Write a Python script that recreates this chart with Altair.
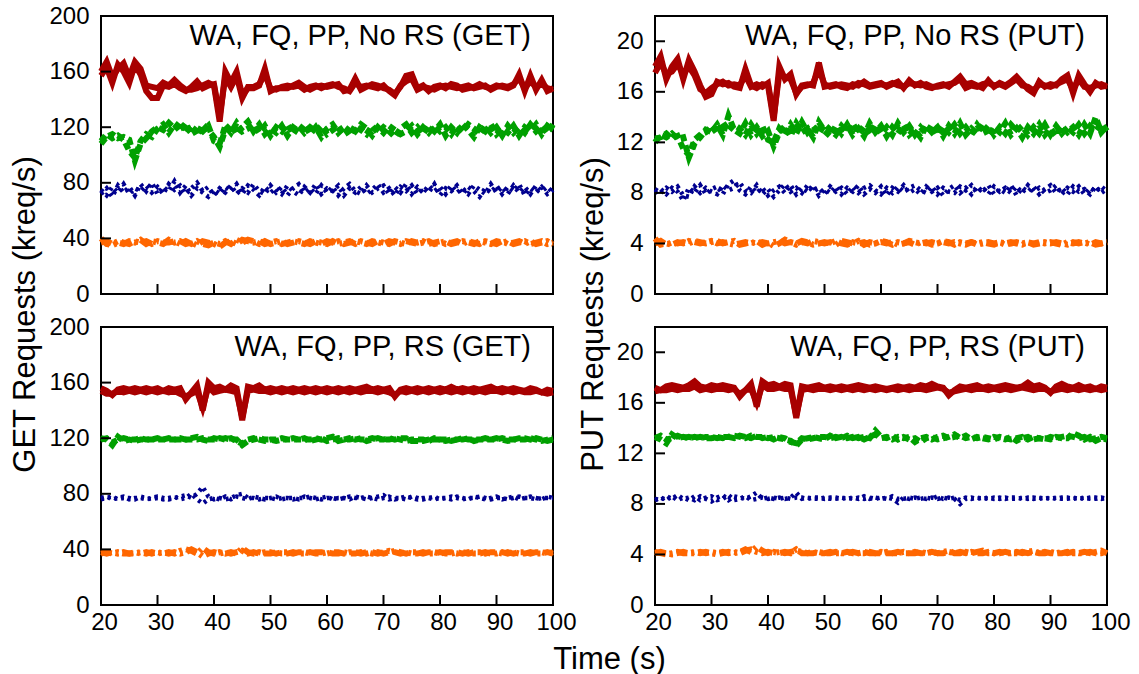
import altair as alt
import pandas as pd

# ---------------- data ----------------
T0 = 20  # first sample (s); one sample per second up to 100 s
X_TICKS = [20, 30, 40, 50, 60, 70, 80, 90, 100]
GET_TICKS = [0, 40, 80, 120, 160, 200]
PUT_TICKS = [0, 4, 8, 12, 16, 20]
GET_MAX = 200
PUT_MAX = 22
TITLES = ["WA, FQ, PP, No RS (GET)", "WA, FQ, PP, No RS (PUT)",
          "WA, FQ, PP, RS (GET)", "WA, FQ, PP, RS (PUT)"]
Y_TITLES = ["GET Requests (kreq/s)", "PUT Requests (kreq/s)"]
X_TITLE = "Time (s)"

# ---- GET, no RS ----
GET_NORS_RED_1 = [
    160, 167, 156, 162, 166, 156, 167, 162, 150, 149,
    148, 152, 150, 154, 150, 147, 147, 148, 150, 152,
    150, 124, 160, 152, 160, 143, 148, 148, 150, 162,
    146, 148, 148, 148, 150, 152, 149, 147, 149, 150,
    149, 150, 151, 146, 147, 155, 147, 149, 151, 150,
    148, 147, 144, 149, 157, 158, 148, 150, 146, 149,
    150, 148, 151, 150, 147, 148, 149, 151, 149, 148,
    150, 149, 148, 150, 158, 146, 157, 147, 154, 146,
    148]
GET_NORS_RED_2 = [
    157, 163, 152, 165, 160, 152, 165, 158, 146, 141,
    141, 150, 149, 151, 148, 146, 149, 153, 148, 150,
    151, 128, 156, 149, 157, 141, 149, 149, 151, 158,
    148, 147, 149, 150, 149, 150, 147, 149, 150, 148,
    150, 151, 149, 148, 146, 152, 149, 150, 149, 148,
    150, 146, 143, 150, 153, 155, 147, 149, 148, 147,
    149, 150, 149, 148, 149, 150, 148, 149, 150, 147,
    149, 150, 149, 151, 155, 148, 153, 149, 151, 148,
    147]
GET_NORS_GREEN_1 = [
    108, 113, 115, 112, 113, 111, 96, 108, 112, 117,
    120, 118, 123, 119, 124, 116, 121, 114, 122, 118,
    113, 106, 118, 122, 115, 120, 124, 117, 122, 115,
    119, 116, 121, 114, 120, 117, 122, 115, 120, 113,
    119, 122, 116, 120, 114, 121, 118, 115, 121, 116,
    120, 117, 113, 119, 122, 116, 120, 115, 121, 117,
    122, 114, 120, 116, 122, 118, 113, 120, 117, 122,
    115, 119, 116, 121, 114, 120, 117, 122, 115, 121,
    118]
GET_NORS_GREEN_2 = [
    110, 115, 112, 114, 111, 103, 98, 110, 115, 113,
    119, 122, 116, 122, 117, 123, 115, 120, 117, 121,
    110, 108, 121, 116, 123, 117, 119, 122, 116, 121,
    114, 120, 117, 122, 115, 121, 116, 120, 117, 121,
    115, 118, 121, 115, 120, 117, 122, 119, 114, 120,
    116, 121, 118, 115, 117, 121, 115, 120, 116, 121,
    117, 120, 115, 121, 117, 122, 119, 115, 121, 116,
    120, 114, 121, 116, 120, 116, 122, 117, 121, 116,
    122]
GET_NORS_BLUE_1 = [
    72, 76, 70, 78, 73, 77, 71, 79, 74, 80,
    72, 77, 74, 81, 73, 78, 71, 76, 73, 70,
    75, 72, 77, 74, 79, 72, 78, 75, 71, 77,
    73, 76, 72, 78, 74, 71, 77, 73, 79, 72,
    76, 74, 78, 71, 76, 73, 77, 72, 75, 79,
    73, 76, 71, 77, 74, 78, 72, 76, 73, 79,
    71, 76, 74, 78, 72, 77, 74, 70, 76, 73,
    78, 72, 77, 74, 79, 71, 76, 73, 77, 72,
    75]
GET_NORS_BLUE_2 = [
    75, 71, 77, 73, 79, 72, 76, 74, 78, 73,
    77, 72, 79, 75, 78, 72, 76, 80, 74, 77,
    71, 76, 73, 78, 72, 76, 73, 79, 74, 72,
    78, 73, 77, 71, 76, 79, 73, 76, 72, 78,
    73, 77, 71, 76, 79, 74, 72, 78, 73, 76,
    78, 72, 77, 73, 79, 72, 77, 73, 78, 74,
    77, 72, 78, 73, 76, 72, 78, 75, 72, 79,
    73, 77, 72, 78, 73, 77, 72, 78, 74, 77,
    73]
GET_NORS_ORANGE_1 = [
    40, 36, 35, 37, 36, 38, 37, 39, 36, 38,
    37, 36, 39, 37, 38, 36, 37, 35, 38, 37,
    36, 34, 37, 38, 36, 39, 38, 37, 38, 36,
    37, 38, 36, 37, 38, 37, 36, 38, 37, 36,
    38, 37, 38, 36, 37, 38, 37, 36, 38, 37,
    36, 38, 37, 36, 38, 37, 36, 37, 38, 36,
    37, 38, 36, 37, 38, 37, 36, 38, 37, 36,
    38, 37, 38, 36, 37, 38, 36, 37, 38, 36,
    37]
GET_NORS_ORANGE_2 = [
    37, 38, 36, 38, 37, 36, 38, 37, 38, 36,
    38, 37, 37, 38, 36, 38, 36, 38, 36, 35,
    37, 36, 38, 36, 39, 37, 39, 38, 36, 38,
    36, 37, 38, 36, 37, 38, 37, 36, 38, 37,
    36, 38, 36, 37, 38, 36, 38, 37, 36, 38,
    37, 36, 38, 37, 36, 38, 37, 38, 36, 37,
    38, 36, 37, 38, 36, 38, 37, 36, 38, 37,
    36, 38, 36, 37, 38, 36, 38, 36, 37, 38,
    36]

# ---- PUT, no RS ----
PUT_NORS_RED_1 = [
    18.0, 18.8, 17.0, 18.0, 18.6, 17.0, 18.5, 17.6, 16.5, 15.6,
    15.8, 16.8, 16.6, 16.7, 16.4, 16.3, 17.8, 16.5, 16.3, 16.6,
    16.5, 13.7, 18.0, 17.0, 17.4, 15.8, 16.5, 16.6, 16.5, 18.3,
    16.4, 16.5, 16.6, 16.4, 16.3, 16.6, 16.5, 16.8, 16.5, 16.6,
    16.7, 16.4, 16.6, 16.8, 16.3, 16.9, 16.5, 16.7, 16.4, 16.3,
    16.5, 16.6, 16.4, 16.8, 17.2, 16.6, 16.7, 16.5, 16.3, 16.9,
    16.4, 16.7, 16.5, 16.8, 17.2, 16.7, 16.2, 15.9, 16.8, 16.4,
    16.6, 16.5, 17.0, 17.3, 15.9, 17.3, 16.6, 16.0, 16.7, 16.4,
    16.5]
PUT_NORS_RED_2 = [
    17.5, 18.3, 17.4, 17.6, 18.2, 17.4, 18.0, 17.3, 16.2, 15.9,
    16.3, 16.6, 16.8, 16.5, 16.6, 16.5, 17.3, 16.4, 16.6, 16.4,
    16.7, 14.0, 17.4, 17.2, 17.0, 15.9, 16.4, 16.5, 16.7, 17.8,
    16.6, 16.4, 16.5, 16.6, 16.5, 16.4, 16.7, 16.6, 16.4, 16.5,
    16.6, 16.5, 16.7, 16.5, 16.4, 16.7, 16.6, 16.5, 16.6, 16.4,
    16.4, 16.5, 16.6, 16.7, 17.0, 16.3, 16.5, 16.4, 16.6, 16.7,
    16.5, 16.6, 16.4, 16.7, 17.0, 16.5, 16.4, 16.1, 16.6, 16.5,
    16.4, 16.6, 16.8, 17.0, 16.2, 17.0, 16.4, 16.3, 16.5, 16.6,
    16.4]
PUT_NORS_GREEN_1 = [
    12.0, 12.6, 12.4, 12.7, 12.3, 12.4, 10.8, 11.9, 12.4, 13.0,
    12.8, 13.4, 12.6, 14.1, 13.0, 12.7, 13.5, 12.6, 13.2, 12.5,
    12.9, 11.7, 12.8, 13.3, 12.5, 13.5, 12.8, 13.1, 12.4, 13.6,
    12.9, 12.5, 13.3, 12.7, 13.4, 12.6, 13.1, 12.5, 13.5, 12.8,
    13.3, 12.5, 13.2, 12.7, 13.4, 12.6, 13.0, 12.4, 13.3, 12.8,
    13.2, 12.5, 13.3, 12.7, 13.5, 12.6, 13.1, 12.7, 13.4, 12.5,
    13.2, 12.8, 13.5, 12.6, 13.1, 12.4, 13.2, 12.7, 13.4, 12.6,
    13.1, 12.5, 13.3, 12.8, 13.2, 12.6, 13.4, 12.7, 14.0, 12.8,
    13.3]
PUT_NORS_GREEN_2 = [
    12.3, 12.4, 12.7, 12.3, 12.5, 11.5, 11.0, 12.2, 12.6, 12.8,
    13.3, 12.7, 13.6, 12.9, 13.4, 13.1, 12.6, 13.4, 12.7, 13.3,
    12.2, 12.0, 13.1, 12.6, 13.4, 12.7, 13.6, 12.8, 13.3, 12.7,
    13.4, 13.0, 12.6, 13.3, 12.8, 13.5, 12.7, 13.3, 12.6, 13.4,
    12.7, 13.2, 12.6, 13.5, 12.8, 13.3, 12.6, 13.2, 12.7, 13.4,
    12.6, 13.3, 12.8, 13.4, 12.7, 13.2, 12.6, 13.4, 12.8, 13.3,
    12.6, 13.2, 12.7, 13.4, 12.9, 13.3, 12.6, 13.2, 12.7, 13.4,
    12.6, 13.3, 12.7, 13.2, 12.8, 13.4, 12.7, 13.3, 12.9, 13.5,
    12.9]
PUT_NORS_BLUE_1 = [
    8.0, 8.3, 7.9, 8.4, 8.1, 7.4, 8.4, 8.0, 8.6, 7.9,
    8.3, 8.5, 7.9, 8.7, 9.0, 8.2, 7.9, 8.5, 8.0, 8.4,
    7.8, 8.2, 8.5, 8.0, 8.6, 7.9, 8.4, 8.1, 8.6, 7.8,
    8.3, 8.0, 8.5, 7.9, 8.4, 8.1, 8.6, 7.9, 8.3, 8.0,
    8.5, 7.8, 8.4, 8.1, 8.6, 8.0, 8.3, 7.9, 8.5, 8.1,
    8.4, 7.8, 8.3, 8.6, 8.0, 8.4, 7.9, 8.5, 8.1, 8.6,
    7.9, 8.3, 8.0, 8.6, 7.8, 8.4, 8.1, 8.5, 7.9, 8.3,
    8.6, 8.0, 8.4, 7.9, 8.5, 8.1, 8.3, 7.9, 8.5, 8.0,
    8.3]
PUT_NORS_BLUE_2 = [
    8.3, 8.0, 8.4, 8.1, 8.5, 7.8, 7.7, 8.5, 8.0, 8.4,
    8.1, 7.9, 8.6, 8.2, 8.4, 8.8, 8.2, 8.0, 8.6, 7.9,
    8.3, 7.7, 8.2, 8.7, 8.1, 8.4, 8.0, 8.6, 8.1, 8.4,
    7.9, 8.5, 8.1, 8.4, 7.9, 8.5, 8.0, 8.4, 8.6, 8.2,
    7.9, 8.4, 8.0, 8.5, 8.1, 8.4, 8.6, 8.2, 8.0, 8.5,
    7.9, 8.4, 8.1, 8.0, 8.5, 8.2, 8.6, 8.0, 8.4, 7.9,
    8.5, 8.1, 8.4, 8.0, 8.5, 8.0, 8.6, 8.1, 8.4, 8.0,
    8.2, 8.6, 7.9, 8.4, 8.1, 8.5, 7.9, 8.4, 8.1, 8.5,
    8.1]
PUT_NORS_ORANGE_1 = [
    4.4, 3.9, 4.0, 3.9, 4.1, 4.0, 4.2, 4.1, 4.0, 4.1,
    4.2, 4.0, 4.1, 4.0, 3.9, 4.0, 4.1, 4.0, 4.2, 3.9,
    4.1, 3.8, 4.0, 4.3, 4.1, 4.0, 4.2, 4.1, 3.9, 4.0,
    4.1, 4.0, 4.2, 4.0, 3.9, 4.1, 4.0, 4.1, 3.9, 4.0,
    4.1, 4.0, 4.1, 3.9, 4.0, 4.2, 4.1, 4.0, 4.1, 3.9,
    4.0, 4.1, 4.0, 4.1, 4.0, 3.9, 4.1, 4.0, 4.1, 4.0,
    3.9, 4.1, 4.0, 4.1, 4.0, 3.9, 4.1, 4.0, 4.1, 4.0,
    4.1, 4.0, 3.9, 4.1, 4.0, 4.1, 4.0, 4.1, 3.9, 4.0,
    4.1]
PUT_NORS_ORANGE_2 = [
    4.0, 4.2, 3.9, 4.1, 4.0, 4.1, 4.0, 4.2, 4.1, 4.0,
    4.1, 4.2, 4.0, 4.1, 4.2, 3.9, 4.0, 4.1, 4.0, 4.1,
    4.0, 4.1, 4.2, 4.0, 4.1, 3.9, 4.1, 4.0, 4.2, 4.1,
    4.0, 4.1, 3.9, 4.2, 4.1, 4.0, 4.2, 3.9, 4.1, 4.0,
    4.2, 4.1, 3.9, 4.1, 4.0, 4.1, 3.9, 4.1, 4.0, 4.1,
    4.0, 4.2, 4.1, 3.9, 4.1, 4.0, 4.1, 3.9, 4.0, 4.1,
    4.0, 4.1, 3.9, 4.0, 4.1, 4.0, 4.1, 3.9, 4.0, 4.1,
    4.0, 4.1, 4.0, 3.9, 4.1, 4.0, 4.1, 3.9, 4.1, 4.0,
    4.1]

# ---- GET, RS ----
GET_RS_RED_1 = [
    156, 154, 151, 155, 156, 155, 156, 155, 156, 155,
    156, 154, 156, 155, 156, 148, 153, 158, 140, 160,
    156, 157, 155, 158, 156, 133, 157, 156, 158, 155,
    156, 155, 156, 155, 156, 155, 156, 155, 156, 155,
    156, 155, 156, 155, 156, 155, 156, 157, 155, 156,
    155, 156, 150, 155, 156, 155, 156, 155, 156, 155,
    156, 155, 157, 155, 156, 155, 156, 155, 156, 157,
    155, 156, 155, 156, 155, 154, 156, 155, 153, 155,
    154]
GET_RS_RED_2 = [
    154, 152, 152, 154, 153, 154, 153, 154, 153, 154,
    153, 154, 153, 154, 152, 150, 152, 154, 142, 157,
    153, 154, 155, 154, 153, 135, 154, 155, 154, 154,
    153, 154, 153, 154, 153, 154, 153, 154, 153, 154,
    153, 154, 153, 154, 153, 154, 153, 154, 154, 153,
    154, 153, 151, 154, 153, 154, 153, 154, 153, 154,
    153, 154, 153, 154, 153, 154, 153, 154, 153, 154,
    154, 153, 154, 153, 154, 153, 153, 154, 153, 152,
    153]
GET_RS_GREEN_1 = [
    120, 119, 115, 121, 118, 119, 118, 119, 119, 119,
    119, 119, 119, 119, 120, 119, 120, 121, 119, 118,
    120, 119, 120, 119, 119, 115, 118, 119, 120, 119,
    119, 118, 119, 119, 119, 119, 119, 119, 120, 119,
    120, 121, 118, 119, 119, 120, 119, 119, 120, 119,
    119, 120, 119, 120, 120, 118, 118, 118, 119, 119,
    119, 118, 119, 119, 120, 119, 119, 119, 119, 119,
    119, 120, 119, 119, 119, 119, 120, 119, 118, 119,
    120]
GET_RS_GREEN_2 = [
    119, 120, 117, 119, 120, 119, 119, 120, 119, 119,
    120, 119, 120, 119, 119, 119, 119, 119, 120, 119,
    119, 120, 119, 120, 118, 116, 119, 120, 119, 118,
    119, 119, 120, 119, 120, 119, 120, 118, 119, 120,
    118, 119, 120, 119, 120, 119, 120, 118, 119, 120,
    119, 119, 120, 119, 118, 119, 119, 119, 118, 120,
    119, 119, 118, 119, 119, 120, 118, 119, 120, 119,
    120, 119, 118, 119, 120, 120, 119, 120, 119, 118,
    119]
GET_RS_BLUE_1 = [
    77, 78, 76, 77, 78, 76, 77, 77, 76, 77,
    78, 77, 76, 77, 78, 79, 77, 80, 85, 78,
    76, 77, 76, 77, 79, 80, 77, 77, 76, 77,
    77, 76, 77, 77, 76, 77, 77, 78, 77, 76,
    77, 77, 76, 77, 78, 77, 77, 78, 77, 76,
    77, 78, 76, 77, 78, 77, 76, 77, 77, 76,
    77, 77, 78, 77, 76, 77, 77, 78, 77, 76,
    77, 77, 76, 77, 78, 77, 77, 76, 77, 77,
    77]
GET_RS_BLUE_2 = [
    76, 77, 78, 76, 77, 77, 76, 78, 77, 76,
    77, 76, 77, 78, 76, 77, 80, 76, 73, 76,
    77, 76, 78, 76, 78, 77, 76, 78, 77, 76,
    77, 78, 76, 77, 77, 76, 78, 77, 76, 77,
    78, 76, 77, 77, 76, 78, 77, 76, 77, 78,
    79, 76, 77, 77, 76, 78, 77, 76, 77, 78,
    76, 77, 76, 78, 77, 76, 78, 77, 76, 77,
    78, 76, 77, 78, 76, 77, 78, 77, 76, 78,
    77]
GET_RS_ORANGE_1 = [
    38, 37, 38, 37, 38, 37, 38, 37, 38, 37,
    38, 37, 38, 37, 39, 40, 39, 37, 41, 38,
    37, 38, 37, 38, 37, 41, 38, 37, 38, 37,
    37, 38, 37, 37, 38, 37, 37, 38, 37, 37,
    38, 37, 37, 38, 37, 37, 38, 37, 38, 37,
    38, 39, 38, 37, 38, 37, 37, 38, 37, 37,
    38, 37, 37, 38, 37, 38, 37, 37, 38, 37,
    37, 38, 37, 38, 37, 37, 38, 37, 37, 38,
    37]
GET_RS_ORANGE_2 = [
    37, 38, 37, 38, 37, 37, 37, 38, 37, 38,
    37, 38, 37, 38, 37, 38, 40, 38, 35, 37,
    38, 37, 38, 37, 38, 39, 37, 38, 37, 38,
    38, 37, 38, 38, 37, 38, 38, 37, 38, 38,
    37, 38, 38, 37, 38, 38, 37, 38, 37, 38,
    37, 38, 39, 38, 37, 38, 38, 37, 38, 38,
    37, 38, 38, 37, 38, 37, 38, 38, 37, 38,
    38, 37, 38, 37, 38, 38, 37, 38, 38, 37,
    38]

# ---- PUT, RS ----
PUT_RS_RED_1 = [
    17.2, 17.0, 17.3, 17.4, 17.3, 17.2, 17.4, 17.7, 17.3, 17.2,
    17.4, 17.3, 17.4, 17.3, 17.2, 16.5, 17.0, 17.5, 15.7, 17.7,
    17.4, 17.5, 17.3, 17.5, 17.4, 14.8, 17.3, 17.2, 17.3, 17.4,
    17.2, 17.3, 17.2, 17.3, 17.2, 17.3, 17.4, 17.3, 17.2, 17.3,
    17.2, 17.1, 17.2, 17.3, 17.2, 17.3, 17.2, 17.4, 17.3, 17.5,
    17.3, 17.2, 16.6, 17.0, 17.3, 17.2, 17.3, 17.4, 17.2, 17.3,
    17.2, 17.3, 17.4, 17.3, 17.2, 17.3, 17.6, 17.3, 17.4, 17.2,
    16.8, 17.3, 17.5, 17.3, 17.2, 17.4, 17.2, 17.3, 17.1, 17.3,
    17.2]
PUT_RS_RED_2 = [
    16.9, 17.0, 17.0, 17.1, 17.0, 17.1, 17.1, 17.3, 17.0, 17.1,
    17.0, 17.1, 17.1, 17.0, 17.1, 16.7, 17.0, 17.1, 16.0, 17.4,
    17.1, 17.1, 17.2, 17.1, 17.1, 15.0, 17.0, 17.1, 17.0, 17.1,
    17.1, 17.0, 17.1, 17.0, 17.1, 17.0, 17.1, 17.0, 17.1, 17.0,
    17.1, 17.0, 17.1, 17.0, 17.1, 17.0, 17.1, 17.1, 17.0, 17.1,
    17.2, 17.1, 16.8, 16.9, 17.0, 17.1, 17.0, 17.1, 17.1, 17.0,
    17.1, 17.0, 17.1, 17.0, 17.1, 17.2, 17.1, 17.0, 17.1, 17.1,
    16.9, 17.0, 17.1, 17.0, 17.1, 17.0, 17.1, 17.0, 17.1, 17.0,
    17.1]
PUT_RS_GREEN_1 = [
    13.3, 13.1, 12.8, 13.5, 13.2, 13.3, 13.2, 13.3, 13.2, 13.3,
    13.3, 13.2, 13.3, 13.3, 13.4, 13.3, 13.2, 13.4, 13.3, 13.3,
    13.2, 13.3, 13.2, 13.1, 13.0, 12.6, 13.1, 13.2, 13.3, 13.2,
    13.1, 13.4, 13.2, 13.3, 13.2, 13.3, 13.2, 13.3, 13.2, 13.8,
    13.3, 13.2, 13.4, 13.1, 13.3, 13.1, 13.2, 12.9, 13.2, 13.3,
    13.1, 13.2, 13.3, 13.5, 13.2, 13.4, 13.1, 13.3, 13.2, 13.1,
    13.3, 13.2, 13.1, 13.3, 13.0, 13.2, 13.3, 13.1, 13.2, 13.2,
    13.1, 13.3, 13.2, 13.2, 13.6, 13.4, 13.1, 13.3, 13.0, 13.2,
    13.1]
PUT_RS_GREEN_2 = [
    13.2, 13.4, 13.1, 13.2, 13.4, 13.2, 13.3, 13.2, 13.3, 13.2,
    13.2, 13.3, 13.2, 13.3, 13.2, 13.4, 13.3, 13.2, 13.4, 13.2,
    13.3, 13.1, 13.3, 13.2, 12.9, 12.8, 13.2, 13.1, 13.2, 13.3,
    13.3, 13.2, 13.3, 13.2, 13.4, 13.2, 13.3, 13.1, 13.3, 13.5,
    13.2, 13.3, 13.1, 13.3, 13.2, 13.3, 12.9, 13.2, 13.3, 13.1,
    13.3, 13.4, 13.2, 13.3, 13.4, 13.2, 13.3, 13.2, 13.3, 13.2,
    13.1, 13.3, 13.2, 13.1, 13.2, 13.3, 13.1, 13.3, 13.2, 13.1,
    13.3, 13.2, 13.3, 13.4, 13.3, 13.2, 13.3, 13.1, 13.2, 13.3,
    13.2]
PUT_RS_BLUE_1 = [
    8.4, 8.3, 8.6, 8.4, 8.7, 8.4, 8.5, 8.3, 8.6, 8.4,
    8.2, 8.5, 8.7, 8.3, 8.6, 8.5, 8.4, 8.6, 8.9, 8.4,
    8.5, 8.4, 8.5, 8.4, 8.5, 8.9, 8.4, 8.5, 8.4, 8.4,
    8.5, 8.4, 8.4, 8.5, 8.4, 8.5, 8.4, 8.6, 8.4, 8.5,
    8.4, 8.5, 8.4, 8.1, 8.5, 8.4, 8.5, 8.4, 8.5, 8.4,
    8.6, 8.4, 8.5, 8.4, 8.0, 8.4, 8.5, 8.4, 8.5, 8.4,
    8.5, 8.4, 8.5, 8.4, 8.4, 8.5, 8.4, 8.5, 8.4, 8.5,
    8.4, 8.5, 8.4, 8.4, 8.5, 8.4, 8.5, 8.4, 8.4, 8.5,
    8.4]
PUT_RS_BLUE_2 = [
    8.3, 8.5, 8.3, 8.6, 8.3, 8.5, 8.3, 8.6, 8.3, 8.5,
    8.6, 8.3, 8.4, 8.7, 8.3, 8.4, 8.6, 8.3, 8.4, 8.5,
    8.4, 8.5, 8.4, 8.5, 8.4, 8.5, 8.5, 8.4, 8.5, 8.5,
    8.4, 8.5, 8.5, 8.4, 8.5, 8.4, 8.5, 8.4, 8.5, 8.4,
    8.5, 8.4, 8.6, 8.4, 8.4, 8.5, 8.4, 8.5, 8.4, 8.5,
    8.4, 8.5, 8.4, 8.5, 8.3, 8.5, 8.4, 8.5, 8.4, 8.5,
    8.4, 8.5, 8.4, 8.5, 8.5, 8.4, 8.5, 8.4, 8.5, 8.4,
    8.5, 8.4, 8.5, 8.5, 8.4, 8.5, 8.4, 8.5, 8.5, 8.4,
    8.5]
PUT_RS_ORANGE_1 = [
    4.2, 4.1, 4.0, 4.1, 4.2, 4.1, 4.1, 4.2, 4.1, 4.2,
    4.1, 4.0, 4.1, 4.2, 4.1, 4.2, 4.4, 4.2, 4.6, 4.3,
    4.1, 4.2, 4.1, 4.2, 4.1, 4.4, 4.1, 4.1, 4.2, 4.1,
    4.1, 4.2, 4.1, 4.1, 4.2, 4.1, 4.1, 4.2, 4.1, 4.1,
    4.2, 4.1, 4.1, 4.1, 4.2, 4.1, 4.1, 4.2, 4.1, 4.2,
    4.1, 4.2, 4.3, 4.1, 4.1, 4.2, 4.1, 4.2, 4.3, 4.1,
    4.1, 4.2, 4.1, 4.1, 4.2, 4.1, 4.2, 4.3, 4.1, 4.1,
    4.2, 4.1, 4.1, 4.2, 4.1, 4.1, 4.2, 4.1, 4.2, 4.3,
    4.1]
PUT_RS_ORANGE_2 = [
    4.1, 4.2, 4.1, 4.0, 4.1, 4.2, 4.1, 4.1, 4.2, 4.1,
    4.2, 4.1, 4.2, 4.1, 4.2, 4.1, 4.3, 4.4, 4.2, 4.1,
    4.2, 4.1, 4.2, 4.1, 4.2, 4.3, 4.2, 4.1, 4.1, 4.2,
    4.1, 4.1, 4.2, 4.1, 4.1, 4.2, 4.1, 4.1, 4.2, 4.1,
    4.1, 4.2, 4.1, 4.2, 4.1, 4.1, 4.2, 4.1, 4.1, 4.2,
    4.1, 4.1, 4.2, 4.1, 4.2, 4.1, 4.2, 4.1, 4.1, 4.2,
    4.1, 4.1, 4.2, 4.1, 4.1, 4.2, 4.1, 4.2, 4.1, 4.2,
    4.1, 4.1, 4.2, 4.1, 4.2, 4.1, 4.1, 4.2, 4.1, 4.1,
    4.2]

# ---------------- styles ----------------
FONT = "Liberation Sans"
W, H = 452, 278
STYLES = {
    "red": {"color": "#A80000", "strokeWidth": 6},
    "green": {"color": "#00A000", "strokeWidth": 6, "strokeDash": [7, 4]},
    "blue": {"color": "#00008F", "strokeWidth": 4.5, "strokeDash": [3, 4]},
    "orange": {"color": "#FF6600", "strokeWidth": 6, "strokeDash": [11, 4, 3, 4]},
}


def group_frame(lines):
    rows = []
    for k, vals in enumerate(lines):
        for i, v in enumerate(vals):
            rows.append({"t": T0 + i, "v": v, "series": f"s{k}"})
    return pd.DataFrame(rows)


def panel(groups, ymax, yticks, title, show_xlabels, ytitle=None, ytitle_x=0, xtitle=None):
    xs = alt.Scale(domain=[20, 100], nice=False, zero=False)
    ys = alt.Scale(domain=[0, ymax], nice=False, zero=True)

    yaxis_kw = dict(values=yticks, ticks=False, domain=False, grid=False,
                    labelPadding=12, labelFontSize=24, labelFont=FONT,
                    labelColor="black", labelFlush=False, title=None)
    if ytitle:
        yaxis_kw.update(title=ytitle, titleFont=FONT, titleFontSize=31,
                        titleFontWeight="normal", titleColor="black",
                        titleAngle=270, titleX=ytitle_x, titleY=298,
                        titleAlign="center", titleBaseline="middle")
    yaxis = alt.Axis(**yaxis_kw)

    xaxis_kw = dict(values=X_TICKS, ticks=False, domain=False, grid=False,
                    labels=show_xlabels, labelPadding=5, labelFontSize=24,
                    labelFont=FONT, labelColor="black", labelFlush=False,
                    labelOffset=3, labelOverlap=False, title=None)
    if xtitle:
        xaxis_kw.update(title=xtitle, titleFont=FONT, titleFontSize=31,
                        titleFontWeight="normal", titleColor="black",
                        titleX=508, titleY=54, titleAlign="center",
                        titleBaseline="middle")
    xaxis = alt.Axis(**xaxis_kw)

    X = alt.X("t:Q", scale=xs, axis=xaxis)
    Y = alt.Y("v:Q", scale=ys, axis=yaxis)

    layers = []
    for name in ["orange", "blue", "green", "red"]:
        df = group_frame(groups[name])
        layers.append(
            alt.Chart(df).mark_line(strokeJoin="miter", **STYLES[name]).encode(
                x=X, y=Y, detail="series:N",
            )
        )

    ytick = alt.Chart(pd.DataFrame({"v": yticks})).mark_rule(
        color="black", strokeWidth=2).encode(
        y=Y, x=alt.value(0), x2=alt.value(10))
    xtick = alt.Chart(pd.DataFrame({"t": X_TICKS})).mark_rule(
        color="black", strokeWidth=2).encode(
        x=X, y=alt.value(H), y2=alt.value(H - 10))

    label = alt.Chart(pd.DataFrame({"label": [title]})).mark_text(
        align="right", baseline="middle", fontSize=29, font=FONT, color="black"
    ).encode(text="label:N", x=alt.value(W - 22), y=alt.value(20))

    return alt.layer(*layers, ytick, xtick, label).properties(width=W, height=H)


tl = panel({"red": [GET_NORS_RED_1, GET_NORS_RED_2],
            "green": [GET_NORS_GREEN_1, GET_NORS_GREEN_2],
            "blue": [GET_NORS_BLUE_1, GET_NORS_BLUE_2],
            "orange": [GET_NORS_ORANGE_1, GET_NORS_ORANGE_2]},
           GET_MAX, GET_TICKS, TITLES[0], False, Y_TITLES[0], -76)
tr = panel({"red": [PUT_NORS_RED_1, PUT_NORS_RED_2],
            "green": [PUT_NORS_GREEN_1, PUT_NORS_GREEN_2],
            "blue": [PUT_NORS_BLUE_1, PUT_NORS_BLUE_2],
            "orange": [PUT_NORS_ORANGE_1, PUT_NORS_ORANGE_2]},
           PUT_MAX, PUT_TICKS, TITLES[1], False, Y_TITLES[1], -62)
bl = panel({"red": [GET_RS_RED_1, GET_RS_RED_2],
            "green": [GET_RS_GREEN_1, GET_RS_GREEN_2],
            "blue": [GET_RS_BLUE_1, GET_RS_BLUE_2],
            "orange": [GET_RS_ORANGE_1, GET_RS_ORANGE_2]},
           GET_MAX, GET_TICKS, TITLES[2], True, xtitle=X_TITLE)
br = panel({"red": [PUT_RS_RED_1, PUT_RS_RED_2],
            "green": [PUT_RS_GREEN_1, PUT_RS_GREEN_2],
            "blue": [PUT_RS_BLUE_1, PUT_RS_BLUE_2],
            "orange": [PUT_RS_ORANGE_1, PUT_RS_ORANGE_2]},
           PUT_MAX, PUT_TICKS, TITLES[3], True)

chart = alt.concat(
    tl, tr, bl, br, columns=2, spacing={"row": 33, "column": 102}, bounds="flush"
).properties(
    padding={"left": 8, "top": 3, "right": 5, "bottom": 2},
    background="white",
).configure_view(stroke="black", strokeWidth=2)

chart.save("out.html", embed_options={"renderer": "svg", "actions": False})
